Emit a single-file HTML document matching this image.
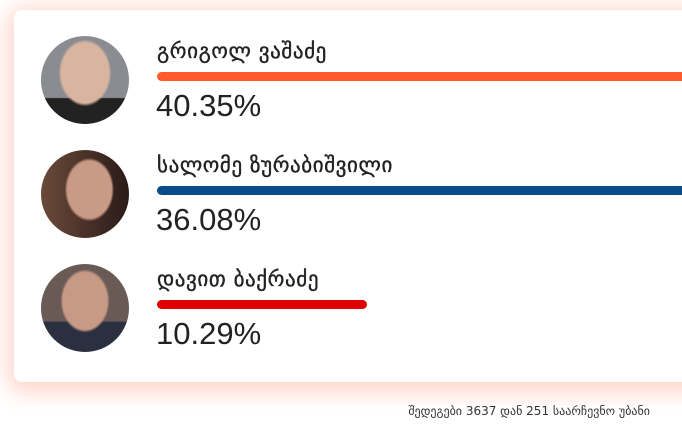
<!DOCTYPE html>
<html><head><meta charset="utf-8"><style>
body{margin:0;width:682px;height:439px;overflow:hidden;background:#fff;font-family:"Liberation Sans","DejaVu Sans",sans-serif;position:relative}
.card{position:absolute;left:14px;top:10px;width:700px;height:372px;background:#fff;border-radius:8px;box-shadow:0 4px 22px 6px rgba(255,120,90,0.32)}
.av{position:absolute;left:41px;width:88px;height:88px;border-radius:50%}
.name{position:absolute;left:157px;font-size:21px;color:#222;font-family:"DejaVu Sans",sans-serif;letter-spacing:0.6px;-webkit-text-stroke:0.4px #222}
.bar{position:absolute;left:157px;height:9px;border-radius:5px 0 0 5px}
.pct{position:absolute;left:156px;font-size:31px;color:#222}
.foot{position:absolute;right:32px;top:404px;font-size:12px;color:#333;font-family:"DejaVu Sans",sans-serif}
</style></head><body>
<div class="card"></div>
<div class="av" style="top:36px;background:radial-gradient(ellipse 30% 38% at 50% 42%,#d9b5a0 0 90%,transparent 100%),linear-gradient(#8a8c92 70%,#222 71%)"></div>
<div class="name" style="top:39px">გრიგოლ ვაშაძე</div>
<div class="bar" style="top:72px;width:525px;background:#ff5a2c"></div>
<div class="pct" style="top:88px">40.35%</div>
<div class="av" style="top:150px;background:radial-gradient(ellipse 28% 36% at 55% 45%,#c99a85 0 90%,transparent 100%),linear-gradient(90deg,#6a4a3a,#2a1a18)"></div>
<div class="name" style="top:153px">სალომე ზურაბიშვილი</div>
<div class="bar" style="top:186px;width:525px;background:#0c4a88"></div>
<div class="pct" style="top:202px">36.08%</div>
<div class="av" style="top:264px;background:radial-gradient(ellipse 28% 36% at 50% 42%,#c79a85 0 90%,transparent 100%),linear-gradient(#6a5a55 65%,#2a3040 66%)"></div>
<div class="name" style="top:267px">დავით ბაქრაძე</div>
<div class="bar" style="top:300px;width:210px;background:#e00000;border-radius:5px"></div>
<div class="pct" style="top:316px">10.29%</div>
<div class="foot">შედეგები 3637 დან 251 საარჩევნო უბანი</div>
</body></html>
